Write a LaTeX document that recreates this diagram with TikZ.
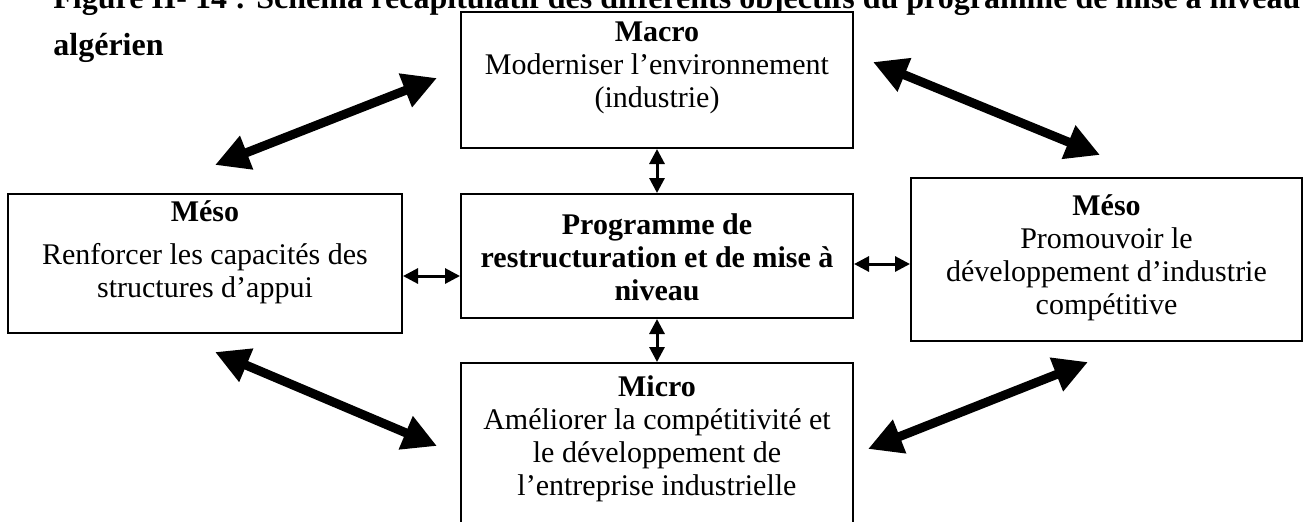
\documentclass[tikz,border=0pt]{standalone}
\usepackage{fontspec}
\setmainfont{Liberation Serif}
\usetikzlibrary{arrows.meta}
\begin{document}
\begin{tikzpicture}[x=0.5pt,y=-0.5pt,
  box/.style={draw, line width=1pt, fill=white, inner sep=0pt},
  txt/.style={align=center, inner sep=0pt, anchor=base, font=\fontsize{15}{16.5}\selectfont},
  ttl/.style={anchor=base west, inner sep=0pt, font=\bfseries\fontsize{16}{19}\selectfont},
  bigarrow/.style={line width=4.5pt, {Triangle[length=17pt,width=17pt]}-{Triangle[length=17pt,width=17pt]}},
  smallarrow/.style={line width=1.5pt, {Triangle[length=7.5pt,width=7.5pt]}-{Triangle[length=7.5pt,width=7.5pt]}}]
\useasboundingbox (0,0) rectangle (1304,521);
\clip (0,0) rectangle (1304,521);

% caption
\node[ttl] (title1) at (53,8) {Figure II- 14 : Schéma récapitulatif des différents objectifs du programme de mise à niveau};
\node[ttl] (title2) at (53,55) {algérien};

% boxes
\node[box, minimum width=196pt, minimum height=68pt] (macro) at (657,80) {};
\node[box, minimum width=196pt, minimum height=62pt] (prog) at (657,256) {};
\node[box, minimum width=196pt, minimum height=85pt] (micro) at (657,448) {};
\node[box, minimum width=197pt, minimum height=69.5pt] (mesoL) at (205,263.5) {};
\node[box, minimum width=195.5pt, minimum height=81.5pt] (mesoR) at (1106.5,259.5) {};

% texts (anchored on the baseline of their last line)
\node[txt] (macroT) at (657,107) {\textbf{Macro}\\Moderniser l’environnement\\(industrie)};
\node[txt] (progT) at (657,300) {\textbf{Programme de}\\\textbf{restructuration et de mise à}\\\textbf{niveau}};
\node[txt] (mesoLT) at (205,297) {\textbf{Méso}\\[5pt]Renforcer les capacités des\\structures d’appui};
\node[txt] (mesoRT) at (1106.5,314) {\textbf{Méso}\\Promouvoir le\\développement d’industrie\\compétitive};
\node[txt] (microT) at (657,495) {\textbf{Micro}\\Améliorer la compétitivité et\\le développement de\\l’entreprise industrielle};

% short links to the central programme
\coordinate (hl) at (0,276);
\coordinate (hr) at (0,264);
\draw[smallarrow] (macro.south) -- (prog.north);
\draw[smallarrow] (prog.south) -- (micro.north);
\draw[smallarrow] (mesoL.east |- hl) -- (prog.west |- hl);
\draw[smallarrow] (prog.east |- hr) -- (mesoR.west |- hr);

% wide links between the levels
\coordinate (a1s) at (215,165);
\coordinate (a1e) at (437,78);
\coordinate (a2s) at (873,62);
\coordinate (a2e) at (1100,155);
\coordinate (a3s) at (215,352);
\coordinate (a3e) at (437,446);
\coordinate (a4s) at (868,449);
\coordinate (a4e) at (1088,362);
\draw[bigarrow] (a1s) -- (a1e);
\draw[bigarrow] (a2s) -- (a2e);
\draw[bigarrow] (a3s) -- (a3e);
\draw[bigarrow] (a4s) -- (a4e);
\end{tikzpicture}
\end{document}
